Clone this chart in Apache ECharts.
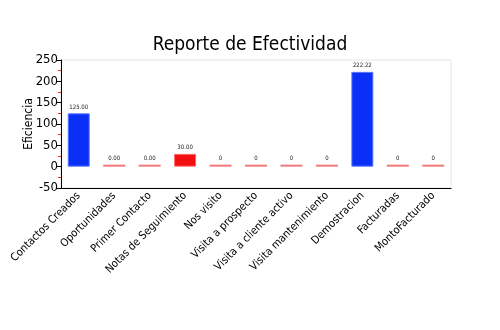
<!DOCTYPE html>
<html>
<head>
<meta charset="utf-8">
<script src="https://cdn.jsdelivr.net/npm/echarts@6/dist/echarts.min.js"></script>
<style>
  html, body { margin: 0; padding: 0; background: #fff; }
  #chart { width: 500px; height: 330px; }
</style>
</head>
<body>
<div id="chart"></div>
<script>
// Indicadores del reporte
const categories = [
  'Contactos Creados', 'Oportunidades', 'Primer Contacto', 'Notas de Seguimiento',
  'Nos visito', 'Visita a prospecto', 'Visita a cliente activo', 'Visita mantenimiento',
  'Demostracion', 'Facturadas', 'MontoFacturado'
];
// Eficiencia por indicador
const values = [125, 0, 0, 30, 0, 0, 0, 0, 222.22, 0, 0];
// Decimales mostrados en la etiqueta de cada barra
const labelDecimals = [2, 2, 2, 2, 0, 0, 0, 0, 2, 0, 0];
// Escala del eje Y
const yMin = -50, yMax = 250, yStep = 50;

const FONT = "'DejaVu Sans Condensed', 'Liberation Sans Narrow', sans-serif";
const BLUE = '#0a30f8';
const RED = '#f20f0f';

const chart = echarts.init(document.getElementById('chart'));

const barData = values.map((v, i) => ({
  value: v,
  itemStyle: v === 0
    ? { color: '#f07a7a', borderColor: '#f07a7a', borderWidth: 0 }
    : { color: v >= 100 ? BLUE : RED, borderColor: v >= 100 ? '#5a78ff' : '#ff6a6a', borderWidth: 1 },
  label: { formatter: () => v.toFixed(labelDecimals[i]) }
}));

chart.setOption({
  animation: false,
  title: {
    text: 'Reporte de Efectividad',
    left: 'center',
    top: 31,
    textStyle: { fontFamily: FONT, fontSize: 19, fontWeight: 'normal', color: '#000' }
  },
  grid: {
    left: 61, right: 49, top: 60, bottom: 142,
    show: true, borderColor: '#e4e4e4', borderWidth: 1
  },
  xAxis: {
    type: 'category',
    data: categories,
    axisLine: { onZero: false, lineStyle: { color: '#000', width: 1 } },
    axisTick: { alignWithLabel: true, length: 4, lineStyle: { color: '#555' } },
    axisLabel: {
      rotate: 45, interval: 0, margin: 6,
      fontFamily: FONT, fontSize: 11, color: '#000'
    }
  },
  yAxis: {
    type: 'value',
    min: yMin, max: yMax, interval: yStep,
    name: 'Eficiencia',
    nameLocation: 'middle',
    nameGap: 26,
    nameMoveOverlap: false,
    nameTextStyle: { fontFamily: FONT, fontSize: 12, color: '#000' },
    axisLine: { show: true, lineStyle: { color: '#000', width: 1 } },
    axisTick: { show: true, length: 5, lineStyle: { color: '#000' } },
    minorTick: { show: true, splitNumber: 2, length: 3, lineStyle: { color: '#f03030' } },
    splitLine: { show: false },
    axisLabel: { fontFamily: FONT, fontSize: 13, color: '#000', margin: 3 }
  },
  series: [{
    type: 'bar',
    data: barData,
    barWidth: '62%',
    barMinHeight: 2,
    label: {
      show: true, position: 'top', distance: 3,
      fontFamily: FONT, fontSize: 6, color: '#222'
    }
  }]
});
</script>
</body>
</html>
